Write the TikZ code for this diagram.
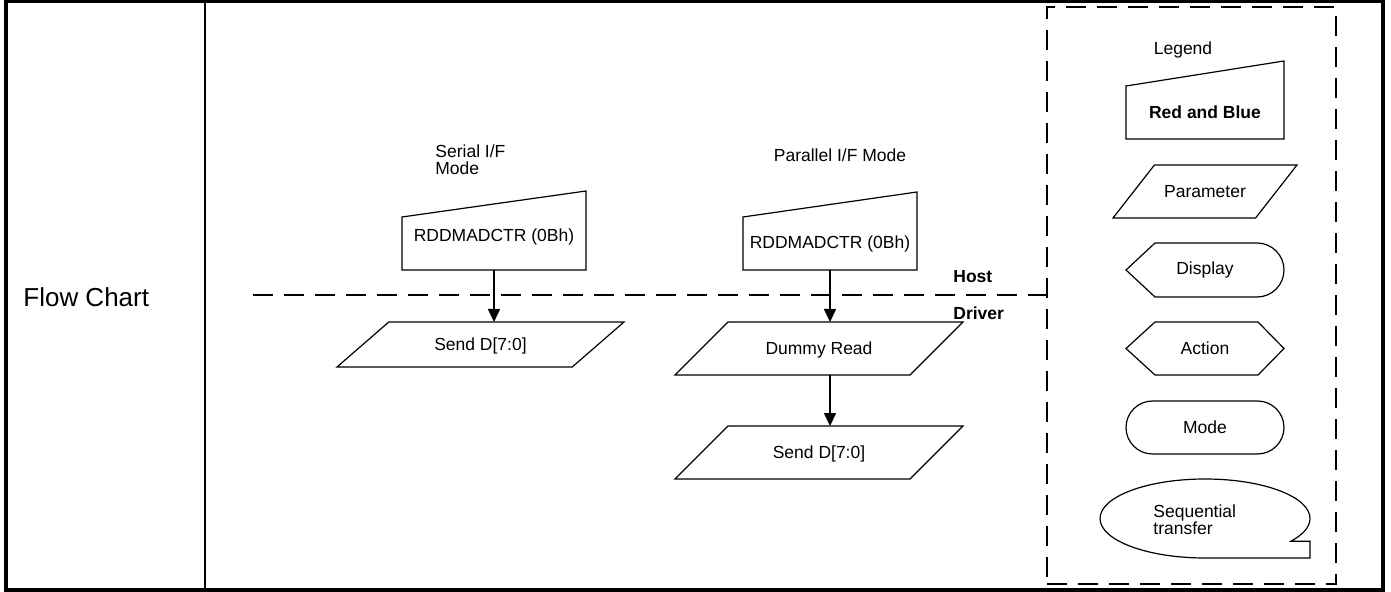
\documentclass[tikz,border=0pt]{standalone}
\usepackage{fontspec}
\setmainfont{Liberation Sans}
\usetikzlibrary{arrows.meta,positioning,shapes.geometric,shapes.misc}

\begin{document}
\begin{tikzpicture}[
  x=0.5pt, y=-0.5pt,
  font=\fontsize{8.75}{8.4}\selectfont,
  lbl/.style={inner sep=0pt},
  outl/.style={line width=0.6pt},
  manin/.style={minimum height=26.5pt,inner sep=0pt,outer sep=0pt},
  io/.style={draw,outl,trapezium,trapezium stretches body=true,
             text height=16.35pt,text depth=10.15pt,
             inner sep=0pt,outer sep=0pt},
  shp/.style={minimum width=79pt,minimum height=26.5pt,
              inner sep=0pt,outer sep=0pt},
  arr/.style={-{Triangle[length=6.5pt,width=6pt]},line width=0.8pt},
  dline/.style={dash pattern=on 10pt off 5.5pt,line width=1.3pt},
]
\useasboundingbox (0,0) rectangle (1391,592);

% frame
\draw[line width=2pt] (5.8,1.5) rectangle (1382.5,590);
\draw[line width=1.3pt] (205,1.5) -- (205,590);
\node[lbl,font=\fontsize{13}{15}\selectfont,anchor=west] (title) at (23,297) {Flow Chart};

% serial
\node[lbl,align=left,anchor=west] (serlab) at (435,160) {Serial I/F\\Mode};
\node[manin,minimum width=92pt,text depth=8.8pt] (cmd_s) at (494,243.5) {RDDMADCTR (0Bh)};
\node[io,text height=14.35pt,text depth=8.15pt,minimum width=143.5pt,
      trapezium left angle=41,trapezium right angle=139,
      below=26pt of cmd_s,xshift=-6.75pt] (send_s) {Send D[7:0]};

% parallel
\node[lbl] (parlab) at (840,155) {Parallel I/F Mode};
\node[manin,minimum width=87pt] (cmd_p) at (830,243.5) {RDDMADCTR (0Bh)};
\node[io,minimum width=144pt,
      trapezium left angle=45,trapezium right angle=135,
      below=26pt of cmd_p,xshift=-5.5pt] (dummy) {Dummy Read};
\node[io,minimum width=144pt,
      trapezium left angle=45,trapezium right angle=135,
      below=25.5pt of dummy] (send_p) {Send D[7:0]};

\draw[outl] (cmd_s.south west) -- (cmd_s.north west) -- ([yshift=13pt]cmd_s.north east) -- (cmd_s.south east) -- cycle;
\draw[outl] (cmd_p.south west) -- (cmd_p.north west) -- ([yshift=12.5pt]cmd_p.north east) -- (cmd_p.south east) -- cycle;

\draw[arr] (cmd_s.south) -- (cmd_s.south |- send_s.north);
\draw[arr] (cmd_p.south) -- (cmd_p.south |- dummy.north);
\draw[arr] (cmd_p.south |- dummy.south) -- (cmd_p.south |- send_p.north);

% legend
\node[draw,dline,minimum width=144.5pt,minimum height=288.5pt,
      inner sep=0pt] (legbox) at (1191.5,295.5) {};
\node[lbl] (leglab) at (1183,50) {Legend};
\node[manin,minimum width=79pt,font=\fontsize{8.75}{8.4}\selectfont\bfseries] (rgb) at (1205,112.5) {Red and Blue};
\draw[outl] (rgb.south west) -- (rgb.north west) -- ([yshift=12.5pt]rgb.north east) -- (rgb.south east) -- cycle;
\node[io,minimum width=92pt,
      trapezium left angle=52,trapezium right angle=128] (param) at (1205,191.5) {Parameter};
\node[shp,minimum height=27pt] (disp) at (1205,270) {Display};
\draw[outl] (disp.west) -- ([xshift=14.5pt]disp.north west) -- ([xshift=-13.5pt]disp.north east)
  arc[start angle=90,end angle=-90,radius=13.5pt] -- ([xshift=14.5pt]disp.south west) -- cycle;
\node[shp] (act) at (1205,348.5) {Action};
\draw[outl] (act.west) -- ([xshift=14.5pt]act.north west) -- ([xshift=-13pt]act.north east) -- (act.east)
  -- ([xshift=-13pt]act.south east) -- ([xshift=14.5pt]act.south west) -- cycle;
\node[draw,outl,rounded rectangle,shp] (mode) at (1205,427.5) {Mode};
\node[shp,minimum width=105pt,minimum height=39.5pt] (seq) at (1205,518.5) {};
\draw[outl] (seq.south) arc[start angle=270,end angle=-35,x radius=52.5pt,y radius=19.75pt]
  coordinate (tail) -- (tail -| seq.east) -- (seq.south east) -- cycle;
\node[lbl,align=left,anchor=west] (seqtxt) at (1153,520) {Sequential\\transfer};

% host / driver
\coordinate (hd) at (253,295);
\draw[dline] (hd) -- (hd -| legbox.west);
\node[lbl,font=\fontsize{8.75}{8.4}\selectfont\bfseries,anchor=west] (host) at (953,277) {Host};
\node[lbl,font=\fontsize{8.75}{8.4}\selectfont\bfseries,anchor=west] (driver) at (953,313) {Driver};
\end{tikzpicture}
\end{document}
